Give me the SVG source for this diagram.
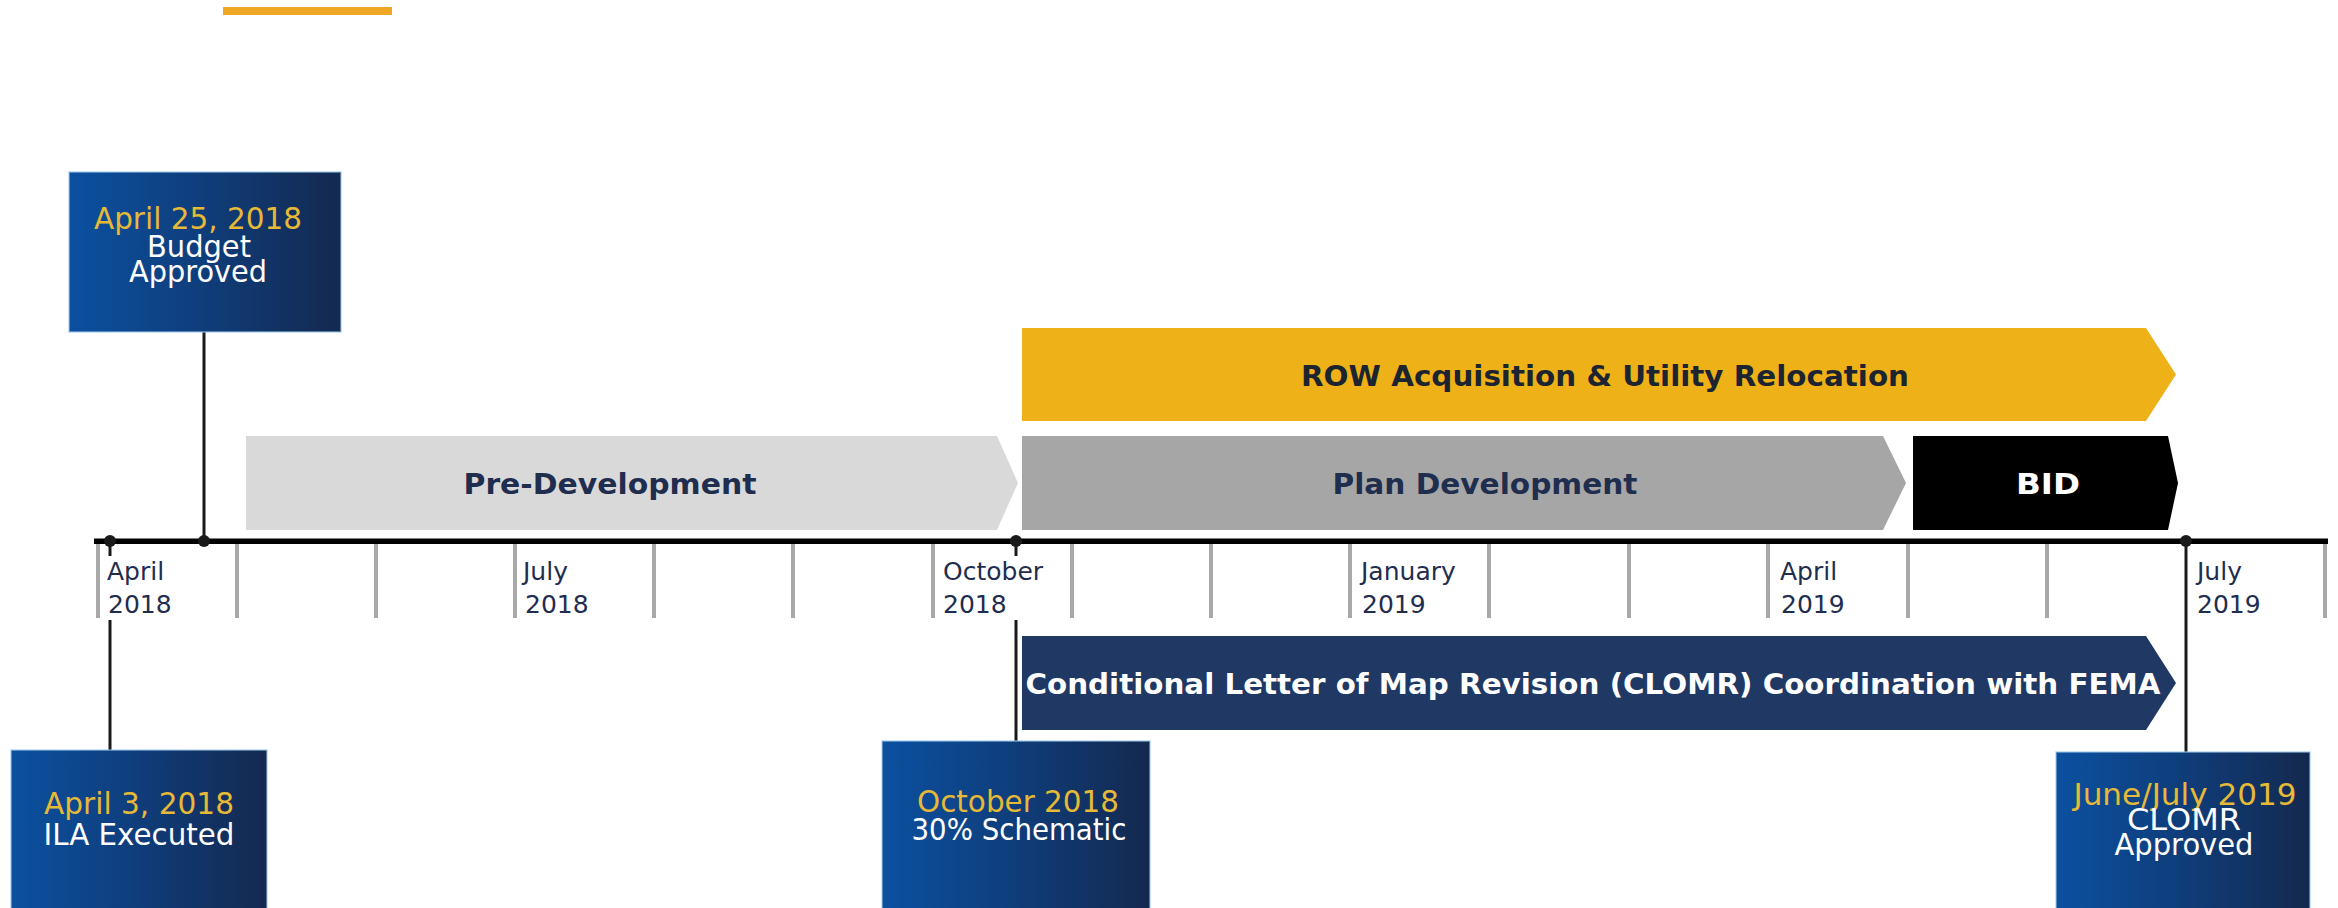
<svg xmlns="http://www.w3.org/2000/svg" width="2338" height="908" viewBox="0 0 2338 908">
  <defs>
    <linearGradient id="boxGrad" x1="0" y1="0" x2="1" y2="0">
      <stop offset="0" stop-color="#0b50a0"/>
      <stop offset="0.5" stop-color="#0f3d7a"/>
      <stop offset="1" stop-color="#14294f"/>
    </linearGradient>
  </defs>
  <style>
    .box { fill: url(#boxGrad); stroke: #9cc7ea; stroke-width: 1.5; stroke-opacity: 0.7; }
    .date { font-family: "DejaVu Sans", "Liberation Sans", sans-serif; font-size: 30px; fill: #e6b936; text-anchor: middle; }
    .what { font-family: "DejaVu Sans", "Liberation Sans", sans-serif; font-size: 30px; fill: #ffffff; text-anchor: middle; }
    .bar-text { font-family: "DejaVu Sans", "Liberation Sans", sans-serif; font-size: 29px; font-weight: bold; text-anchor: middle; }
    .axis-label { font-family: "DejaVu Sans", "Liberation Sans", sans-serif; font-size: 25px; fill: #1f2d4e; }
    .tick { stroke: #a8a8a8; stroke-width: 4; }
    .conn { stroke: #1a1a1a; stroke-width: 3; fill: none; }
    .dot { fill: #1a1a1a; }
  </style>

  <rect width="2338" height="908" fill="#ffffff"/>

  <!-- accent bar -->
  <rect id="accent" x="223" y="7" width="169" height="8" fill="#f0a824"/>

  <!-- timeline axis -->
  <g id="axis">
    <line class="tick" x1="98" y1="542" x2="98" y2="618"/>
    <line class="tick" x1="237" y1="542" x2="237" y2="618"/>
    <line class="tick" x1="376" y1="542" x2="376" y2="618"/>
    <line class="tick" x1="515" y1="542" x2="515" y2="618"/>
    <line class="tick" x1="654" y1="542" x2="654" y2="618"/>
    <line class="tick" x1="793" y1="542" x2="793" y2="618"/>
    <line class="tick" x1="933" y1="542" x2="933" y2="618"/>
    <line class="tick" x1="1072" y1="542" x2="1072" y2="618"/>
    <line class="tick" x1="1211" y1="542" x2="1211" y2="618"/>
    <line class="tick" x1="1350" y1="542" x2="1350" y2="618"/>
    <line class="tick" x1="1489" y1="542" x2="1489" y2="618"/>
    <line class="tick" x1="1629" y1="542" x2="1629" y2="618"/>
    <line class="tick" x1="1768" y1="542" x2="1768" y2="618"/>
    <line class="tick" x1="1908" y1="542" x2="1908" y2="618"/>
    <line class="tick" x1="2047" y1="542" x2="2047" y2="618"/>
    <line class="tick" x1="2325" y1="542" x2="2325" y2="618"/>
    <rect x="94" y="538.5" width="2234" height="5.5" fill="#000000"/>
    <text class="axis-label" x="107" y="580">April</text>
    <text class="axis-label" x="108" y="613">2018</text>
    <text class="axis-label" x="523" y="580">July</text>
    <text class="axis-label" x="525" y="613">2018</text>
    <text class="axis-label" x="943" y="580">October</text>
    <text class="axis-label" x="943" y="613">2018</text>
    <text class="axis-label" x="1361" y="580">January</text>
    <text class="axis-label" x="1362" y="613">2019</text>
    <text class="axis-label" x="1780" y="580">April</text>
    <text class="axis-label" x="1781" y="613">2019</text>
    <text class="axis-label" x="2197" y="580">July</text>
    <text class="axis-label" x="2197" y="613">2019</text>
  </g>

  <!-- phase bars -->
  <g id="row-acquisition">
    <polygon points="1022,328 2146,328 2176,374.5 2146,421 1022,421" fill="#eeb117"/>
    <text class="bar-text" x="1605" y="386" fill="#1b2430" textLength="608" lengthAdjust="spacingAndGlyphs">ROW Acquisition &amp; Utility Relocation</text>
  </g>
  <g id="pre-development">
    <polygon points="246,436 997,436 1018,483 997,530 246,530" fill="#d9d9d9"/>
    <text class="bar-text" x="610" y="494" fill="#1f2d4e" textLength="293" lengthAdjust="spacingAndGlyphs">Pre-Development</text>
  </g>
  <g id="plan-development">
    <polygon points="1022,436 1883,436 1906,483 1883,530 1022,530" fill="#a6a6a6"/>
    <text class="bar-text" x="1485" y="494" fill="#1f2d4e" textLength="305" lengthAdjust="spacingAndGlyphs">Plan Development</text>
  </g>
  <g id="bid">
    <polygon points="1913,436 2168,436 2178,483 2168,530 1913,530" fill="#000000"/>
    <text class="bar-text" x="2048" y="494" fill="#ffffff" textLength="64" lengthAdjust="spacingAndGlyphs">BID</text>
  </g>
  <g id="clomr-coordination">
    <polygon points="1022,636 2146,636 2176,683 2146,730 1022,730" fill="#1f3864"/>
    <text class="bar-text" x="1593" y="694" fill="#ffffff" textLength="1135" lengthAdjust="spacingAndGlyphs">Conditional Letter of Map Revision (CLOMR) Coordination with FEMA</text>
  </g>

  <!-- connectors -->
  <g id="connectors">
    <line class="conn" x1="204" y1="332" x2="204" y2="541"/>
    <line class="conn" x1="110" y1="541" x2="110" y2="556"/>
    <line class="conn" x1="110" y1="620" x2="110" y2="750"/>
    <line class="conn" x1="1016" y1="541" x2="1016" y2="556"/>
    <line class="conn" x1="1016" y1="620" x2="1016" y2="741"/>
    <line class="conn" x1="2186" y1="541" x2="2186" y2="752"/>
    <circle class="dot" cx="110" cy="541" r="6"/>
    <circle class="dot" cx="204" cy="541" r="6"/>
    <circle class="dot" cx="1016" cy="541" r="6"/>
    <circle class="dot" cx="2186" cy="541" r="6"/>
  </g>

  <!-- milestones -->
  <g id="budget-approved">
    <rect class="box" x="69" y="172" width="272" height="160"/>
    <text class="date" x="198" y="229" textLength="208" lengthAdjust="spacingAndGlyphs">April 25, 2018</text>
    <text class="what" x="199" y="257" textLength="104" lengthAdjust="spacingAndGlyphs">Budget</text>
    <text class="what" x="198" y="282" textLength="138" lengthAdjust="spacingAndGlyphs">Approved</text>
  </g>
  <g id="ila-executed">
    <rect class="box" x="11" y="750" width="256" height="170"/>
    <text class="date" x="139" y="814" textLength="190" lengthAdjust="spacingAndGlyphs">April 3, 2018</text>
    <text class="what" x="139" y="845" textLength="191" lengthAdjust="spacingAndGlyphs">ILA Executed</text>
  </g>
  <g id="schematic-30">
    <rect class="box" x="882" y="741" width="268" height="180"/>
    <text class="date" x="1018" y="812" textLength="202" lengthAdjust="spacingAndGlyphs">October 2018</text>
    <text class="what" x="1019" y="840" textLength="215" lengthAdjust="spacingAndGlyphs">30% Schematic</text>
  </g>
  <g id="clomr-approved">
    <rect class="box" x="2056" y="752" width="254" height="170"/>
    <text class="date" x="2185" y="805" textLength="223" lengthAdjust="spacingAndGlyphs">June/July 2019</text>
    <text class="what" x="2184" y="830" textLength="114" lengthAdjust="spacingAndGlyphs">CLOMR</text>
    <text class="what" x="2184" y="855" textLength="139" lengthAdjust="spacingAndGlyphs">Approved</text>
  </g>
</svg>
